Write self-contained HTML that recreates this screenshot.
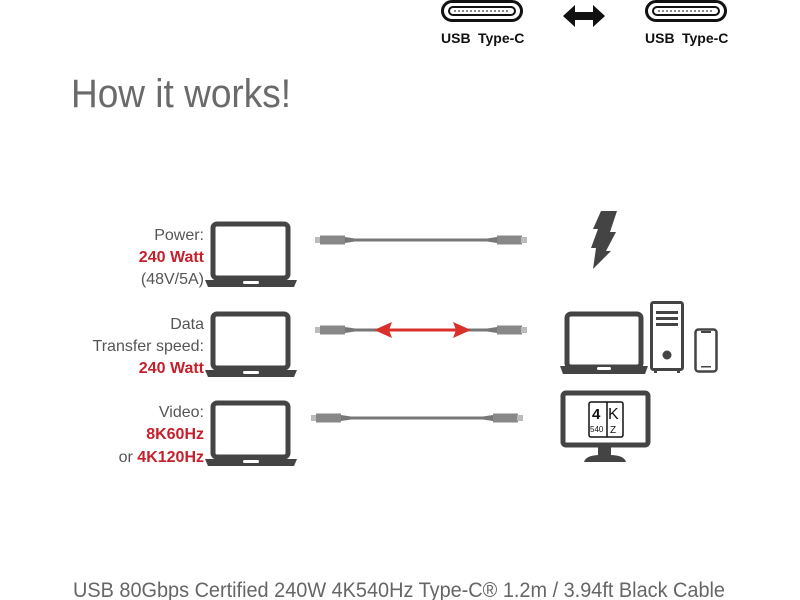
<!DOCTYPE html>
<html><head><style>body{margin:0;background:#fff}svg{display:block}</style></head><body>
<svg width="800" height="600" viewBox="0 0 800 600" xmlns="http://www.w3.org/2000/svg" font-family="Liberation Sans, sans-serif">
<defs>
<g id="usbc"><rect x="1.5" y="1.5" width="79" height="19" rx="9.5" fill="#fff" stroke="#111" stroke-width="3"/><rect x="8" y="7" width="66" height="8" rx="4" fill="none" stroke="#111" stroke-width="2"/><line x1="13" y1="11" x2="69" y2="11" stroke="#111" stroke-width="1" stroke-dasharray="2 2"/></g>
<g id="laptop"><rect x="213" y="2" width="75" height="54" rx="4" fill="#fff" stroke="#444" stroke-width="5"/><path d="M205 58 H297 L294 65 H208 Z" fill="#444"/><rect x="243" y="59" width="16" height="3" rx="1.5" fill="#fff"/></g>
<g id="cable"><rect x="0" y="-3" width="6" height="6" fill="#bbb"/><rect x="5" y="-4.5" width="25" height="9" fill="#888"/><path d="M30 -3 L40 -1.5 V1.5 L30 3Z" fill="#777"/><line x1="38" y1="0" x2="175" y2="0" stroke="#777" stroke-width="3"/><path d="M182 -3 L172 -1.5 V1.5 L182 3Z" fill="#777"/><rect x="182" y="-4.5" width="25" height="9" fill="#888"/><rect x="206" y="-3" width="6" height="6" fill="#bbb"/></g>
</defs>
<use href="#usbc" x="441" y="0"/><use href="#usbc" x="645" y="0"/>
<text x="441" y="43" font-size="14" font-weight="bold" fill="#111">USB<tspan x="478">Type-C</tspan></text>
<text x="645" y="43" font-size="14" font-weight="bold" fill="#111">USB<tspan x="682">Type-C</tspan></text>
<path d="M563 16 L575 5 V12 H593 V5 L605 16 L593 27 V20 H575 V27 Z" fill="#111"/>
<text x="71" y="107" font-size="40" fill="#6a6a6a" textLength="220" lengthAdjust="spacingAndGlyphs">How it works!</text>
<g font-size="16" fill="#555" text-anchor="end">
<text x="204" y="240">Power:</text>
<text x="204" y="262" font-weight="bold" fill="#c5202c">240 Watt</text>
<text x="204" y="284">(48V/5A)</text>
<text x="204" y="329">Data</text>
<text x="204" y="351">Transfer speed:</text>
<text x="204" y="373" font-weight="bold" fill="#c5202c">240 Watt</text>
<text x="204" y="417">Video:</text>
<text x="204" y="439" font-weight="bold" fill="#c5202c">8K60Hz</text>
<text x="204" y="462">or <tspan font-weight="bold" fill="#c5202c">4K120Hz</tspan></text>
</g>
<use href="#laptop" x="0" y="222"/><use href="#laptop" x="0" y="312"/><use href="#laptop" x="0" y="401"/>
<use href="#cable" x="315" y="240"/><use href="#cable" x="315" y="330"/><use href="#cable" x="311" y="418"/>
<line x1="385" y1="330" x2="460" y2="330" stroke="#d9302c" stroke-width="3"/>
<path d="M374 330 L392 322 L389 330 L392 338Z M471 330 L453 322 L456 330 L453 338Z" fill="#d9302c"/>
<path d="M601 211 L617 211 L610 232 L616 232 L606 251 L611 251 L593 269 L596 248 L591 248 L598 229 L593 229 Z" fill="#444"/>
<rect x="567" y="314" width="74" height="53" rx="4" fill="#fff" stroke="#444" stroke-width="5"/>
<path d="M560 366 H648 L645 374 H563Z" fill="#444"/><rect x="597" y="367" width="14" height="3" rx="1.5" fill="#fff"/>
<rect x="651.5" y="302.5" width="31" height="67" rx="2" fill="#fff" stroke="#444" stroke-width="3"/>
<rect x="656" y="311" width="22" height="3" fill="#444"/><rect x="656" y="317" width="22" height="3" fill="#444"/><rect x="656" y="323" width="22" height="3" fill="#444"/>
<circle cx="667" cy="355" r="4.5" fill="#444"/><rect x="654" y="369" width="3" height="4" fill="#444"/><rect x="677" y="369" width="3" height="4" fill="#444"/>
<rect x="695.5" y="329.5" width="21" height="42" rx="3" fill="#fff" stroke="#444" stroke-width="2.5"/><rect x="701" y="331" width="10" height="2" fill="#444"/><rect x="701" y="366" width="10" height="1.5" fill="#444"/>
<rect x="563" y="393" width="85" height="52" rx="3" fill="#fff" stroke="#444" stroke-width="5"/>
<rect x="598" y="447" width="13" height="10" fill="#444"/><path d="M584 462 Q586 455 600 455 H610 Q624 455 626 462Z" fill="#444"/>
<rect x="589" y="402" width="34" height="35" rx="2" fill="#fff" stroke="#111" stroke-width="1.5"/>
<line x1="607" y1="402" x2="607" y2="437" stroke="#111" stroke-width="1.5"/>
<text x="592" y="419" font-size="15" font-weight="bold" fill="#111">4</text>
<text x="608" y="419" font-size="16" fill="#111">K</text>
<text x="590" y="432" font-size="8" fill="#111">540</text>
<text x="610" y="433" font-size="10" fill="#111">Z</text>
<text x="73" y="597" font-size="21" fill="#666" textLength="652" lengthAdjust="spacingAndGlyphs">USB 80Gbps Certified 240W 4K540Hz Type-C® 1.2m / 3.94ft Black Cable</text>
</svg>
</body></html>
